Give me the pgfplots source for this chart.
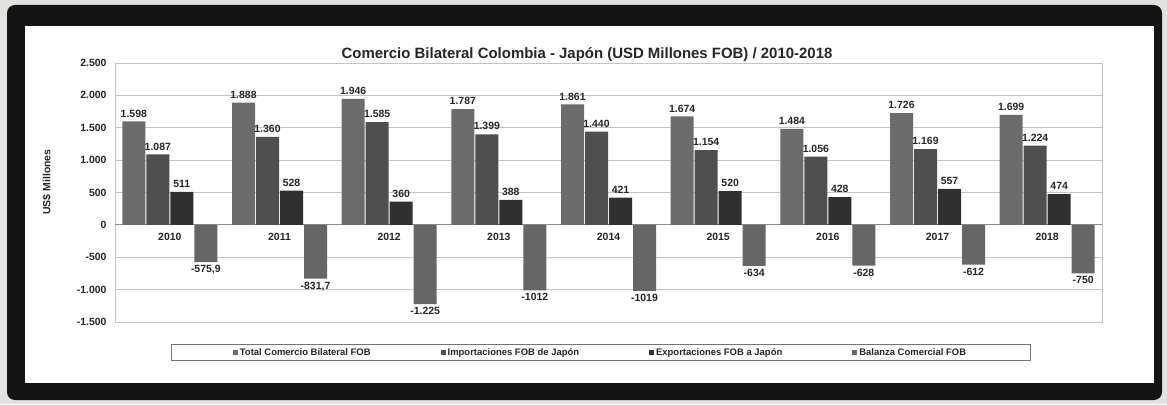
\documentclass[border=0pt]{standalone}
\usepackage{pgfplots}
\pgfplotsset{compat=1.18}
\usepackage{pgfplotstable}
\usepackage{fontspec}
\setmainfont{Liberation Sans}
\definecolor{paper}{HTML}{E2E2E0}
\definecolor{frame}{HTML}{141414}
\definecolor{gridc}{HTML}{C4C4C4}
\definecolor{txt}{HTML}{262626}
\definecolor{cT}{HTML}{6C6C6C}
\definecolor{cI}{HTML}{4F4F4F}
\definecolor{cE}{HTML}{303030}
\definecolor{cB}{HTML}{666666}

\pgfplotstableread{
x total imp exp bal tl il el bl
0 1598 1087 511 -575.9 1.598 1.087 511 -575,9
1 1888 1360 528 -831.7 1.888 1.360 528 -831,7
2 1946 1585 360 -1225 1.946 1.585 360 -1.225
3 1787 1399 388 -1012 1.787 1.399 388 -1012
4 1861 1440 421 -1019 1.861 1.440 421 -1019
5 1674 1154 520 -634 1.674 1.154 520 -634
6 1484 1056 428 -628 1.484 1.056 428 -628
7 1726 1169 557 -612 1.726 1.169 557 -612
8 1699 1224 474 -750 1.699 1.224 474 -750
}\data

\begin{document}
\begin{tikzpicture}[x=1bp,y=1bp]
\useasboundingbox (0,0) rectangle (1167,404);
\fill[paper] (0,0) rectangle (1167,404);
\fill[frame, rounded corners=8bp] (7,4) rectangle (1162,399);
\fill[white] (25,21) rectangle (1154,378);
\begin{axis}[
  at={(115bp,82bp)}, anchor=south west,
  scale only axis, width=987bp, height=259bp,
  xmin=-0.5, xmax=8.5, ymin=-1500, ymax=2500,
  ytick={-1500,-1000,...,2500},
  xtick={0,...,8},
  xticklabels={2010,2011,2012,2013,2014,2015,2016,2017,2018},
  major tick length=0pt,
  ymajorgrids, grid style={draw=gridc, line width=0.8bp},
  axis line style={draw=gridc, line width=0.8bp},
  extra y ticks={0}, extra y tick labels={},
  extra y tick style={ymajorgrids=true, major grid style={draw=black!45, line width=1bp}},
  ybar=1bp, bar width=23bp,
  tick label style={font=\fontsize{10.5}{12}\selectfont\bfseries, text=txt},
  yticklabel style={xshift=-5bp, /pgf/number format/.cd, fixed, 1000 sep={.}, assume math mode=true},
  scaled y ticks=false,
  xticklabel style={yshift=92bp},
  nodes near coords, point meta=explicit symbolic,
  every node near coord/.append style={font=\fontsize{10.5}{12}\selectfont\bfseries, text=txt, inner sep=2bp},
  legend columns=4,
  legend style={at={(0.4919,-0.1178)}, anchor=center, draw=black!55, line width=0.8bp, fill=white,
    inner xsep=62bp, inner ysep=2bp, font=\fontsize{9.5}{11}\selectfont\bfseries, text=txt,
    /tikz/every even column/.append style={column sep=68bp}},
  legend image code/.code={\fill[#1] (0bp,-2.5bp) rectangle (5bp,2.5bp);},
]
\addplot[draw=none, fill=cT, every node near coord/.append style={anchor=south, yshift=2bp}] table[x=x, y=total, meta=tl] {\data};
\addplot[draw=none, fill=cI, every node near coord/.append style={anchor=south, yshift=2bp}] table[x=x, y=imp, meta=il] {\data};
\addplot[draw=none, fill=cE, every node near coord/.append style={anchor=south, yshift=2bp}] table[x=x, y=exp, meta=el] {\data};
\addplot[draw=none, fill=cB, every node near coord/.append style={anchor=north, yshift=-1bp}] table[x=x, y=bal, meta=bl] {\data};
\legend{Total Comercio Bilateral FOB, Importaciones FOB de Japón, Exportaciones FOB a Japón, Balanza Comercial FOB}
\end{axis}
\node[font=\fontsize{15}{17}\selectfont\bfseries, text=txt] at (587,349) {Comercio Bilateral Colombia - Japón (USD Millones FOB) / 2010-2018};
\node[rotate=90, font=\fontsize{10.5}{12}\selectfont\bfseries, text=txt] at (47,222) {US\$ Millones};
\end{tikzpicture}
\end{document}
